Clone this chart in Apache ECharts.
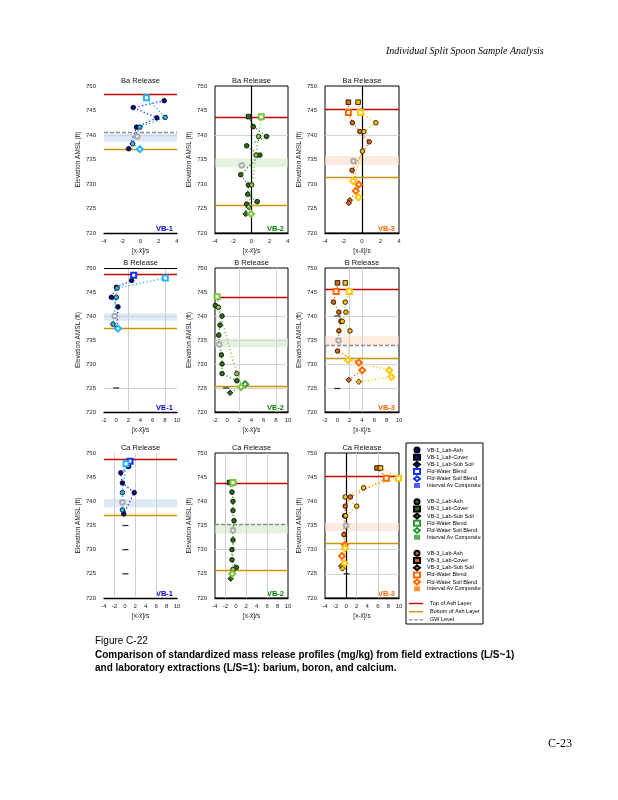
<!DOCTYPE html>
<html><head><meta charset="utf-8">
<script src="https://cdn.jsdelivr.net/npm/echarts@6/dist/echarts.min.js"></script>
<style>html,body{margin:0;padding:0;background:#fff}#c{width:618px;height:800px}</style>
</head><body><div id="c"></div>
<script>
// ================= DATA =================
const panelTitles = ['Ba Release','Ba Release','Ba Release','B Release','B Release','B Release','Ca Release','Ca Release','Ca Release'];
const siteNames = ['VB-1','VB-2','VB-3'];
const yTickValues = [720, 725, 730, 735, 740, 745, 750];
const xTicksBa = [-4, -2, 0, 2, 4];
const xTicksB = [-2, 0, 2, 4, 6, 8, 10];
const xTicksCa = [-4, -2, 0, 2, 4, 6, 8, 10];
const legendLabels = ['Lab-Ash', 'Lab-Cover', 'Lab-Sub Soil', 'Fld-Water Blend', 'Fld-Water Soil Blend', 'Interval Av Composite'];
const lineLegendLabels = ['Top of Ash Layer', 'Bottom of Ash Layer', 'GW Level'];
const yAxisTitle = 'Elevation AMSL (ft)';
const xAxisTitle = '[x-x\u0304]/s';

// per panel (Ba VB-1, Ba VB-2, Ba VB-3, B VB-1, B VB-2, B VB-3, Ca VB-1, Ca VB-2, Ca VB-3)
const topAshElev    = [748.4, 743.6, 745.2, 748.8, 744.0, 745.6, 748.8, 743.8, 745.2];
const bottomAshElev = [737.1, 725.6, 731.3, 737.5, 725.4, 731.3, 737.2, 725.7, 731.3];
const gwElev        = [740.5, null, null, null, null, 733.9, null, 735.3, null];
const bandLowElev   = [738.6, 733.4, 733.9, 739.0, 733.5, 733.9, 738.8, 733.3, 733.8];
const bandHighElev  = [740.3, 735.2, 735.7, 740.5, 735.3, 735.8, 740.5, 735.3, 735.5];
const vGridX   = [[], [], [], [2, 8], [2, 8], [2, 4], [-2, 2, 6], [-2, 2, 6], [2, 6]];
const hGridY   = [[740], [740], [740], [740, 725], [740, 735, 730, 725], [740, 730, 725], [], [730], [730, 725]];
const zeroLineX = [[], [0], [0], [], [], [], [], [], [0]];
const blackLineY = [[], [], [], [750], [], [], [], [], []];

// Ba VB-1
const baVB1DarkLab  = [[2.6,747.0],[-0.8,745.6],[1.8,743.5],[-0.43,741.6],[-1.3,737.2]];
const baVB1LightLab = [[2.7,743.6],[-0.07,741.6],[-0.86,738.2]];
const baVB1DarkFld  = [];
const baVB1LightFld = [[0.65,747.6],[-0.07,737.1]];
const baVB1Comp     = [[-0.36,739.7]];
const baVB1Dash     = [];
// Ba VB-2
const baVB2DarkLab  = [[-0.31,743.75],[0.2,741.7],[1.65,739.7],[-0.53,737.8],[0.92,735.9],[-1.18,731.9],[-0.34,729.8],[-0.42,727.9],[0.63,726.4],[-0.53,725.9],[-0.63,723.9]];
const baVB2LightLab = [[0.78,739.7],[0.49,735.9],[0.02,729.8],[-0.31,725.3]];
const baVB2DarkFld  = [];
const baVB2LightFld = [[1.07,743.75],[-0.05,723.9]];
const baVB2Comp     = [[-1.07,733.8]];
const baVB2Dash     = [];
// Ba VB-3
const baVB3DarkLab  = [[-1.47,746.7],[-1.03,742.5],[-0.24,740.7],[0.78,738.6],[-1.07,732.8],[-1.32,726.7],[-1.43,726.1]];
const baVB3LightLab = [[-0.42,746.7],[1.5,742.5],[0.2,740.7],[0.05,736.7]];
const baVB3DarkFld  = [[-1.47,744.6],[-0.34,729.9],[-0.67,728.6]];
const baVB3LightFld = [[-0.16,744.6],[-0.96,730.6],[-0.38,727.3]];
const baVB3Comp     = [[-0.92,734.7]];
const baVB3Dash     = [];
// B VB-1
const bVB1DarkLab  = [[2.55,747.4],[0.03,746.0],[-0.79,743.9],[0.3,741.9],[0.14,737.5]];
const bVB1LightLab = [[0.14,745.8],[0.03,743.9],[-0.52,738.3]];
const bVB1DarkFld  = [[2.88,748.5]];
const bVB1LightFld = [[8.08,747.9],[0.3,737.4]];
const bVB1Comp     = [[-0.25,740.0]];
const bVB1Dash     = [[0,725]];
// B VB-2
const bVB2DarkLab  = [[-1.95,742.2],[-0.84,740.0],[-1.17,738.1],[-1.39,736.0],[-0.95,731.9],[-0.84,730.0],[-0.84,728.0],[1.58,726.5],[0.48,724.0]];
const bVB2LightLab = [[-1.45,741.8],[1.58,728.0]];
const bVB2DarkFld  = [[2.96,725.8]];
const bVB2LightFld = [[-1.65,744.0],[2.3,725.2]];
const bVB2Comp     = [[-1.28,734.1]];
const bVB2Dash     = [[-0.18,725]];
// B VB-3
const bVB3DarkLab  = [[0.03,746.9],[-0.63,742.9],[0.25,740.8],[0.58,738.9],[0.25,736.9],[0.03,732.7],[1.84,726.7]];
const bVB3LightLab = [[1.29,746.9],[1.29,742.9],[1.4,740.8],[0.8,738.9],[2.05,736.9],[3.48,726.3]];
const bVB3DarkFld  = [[-0.19,745.1],[3.48,730.3],[4.03,728.7]];
const bVB3LightFld = [[1.95,745.1],[1.73,730.8],[8.41,728.7],[8.79,727.3]];
const bVB3Comp     = [[0.19,734.9]];
const bVB3Dash     = [[0,740],[0,724.9]];
// Ca VB-1
const caVB1DarkLab  = [[0.73,747.2],[-0.78,745.9],[-0.47,743.8],[1.8,741.8],[-0.21,737.4]];
const caVB1LightLab = [[-0.47,741.8],[-0.47,738.2]];
const caVB1DarkFld  = [[1.0,748.3]];
const caVB1LightFld = [[0.23,747.8]];
const caVB1Comp     = [[-0.47,739.8]];
const caVB1Dash     = [[0.1,735],[0.1,730],[0.1,725]];
// Ca VB-2
const caVB2DarkLab  = [[-1.2,743.9],[-0.74,741.9],[-0.55,740.0],[-0.55,738.1],[-0.35,736.0],[-0.55,732.0],[-0.74,730.0],[-0.74,727.9],[0.1,726.3],[-1.0,724.0]];
const caVB2LightLab = [[-0.55,725.9]];
const caVB2DarkFld  = [];
const caVB2LightFld = [[-0.55,743.9],[-0.7,725.0]];
const caVB2Comp     = [[-0.55,734.0]];
const caVB2Dash     = [];
// Ca VB-3
const caVB3DarkLab  = [[5.85,746.9],[0.8,740.9],[-0.17,739.0],[-0.3,737.0],[-0.42,733.1],[-0.93,726.6]];
const caVB3LightLab = [[6.5,746.9],[3.3,742.8],[-0.17,740.9],[2.0,739.0],[-0.1,737.0],[-0.68,726.1]];
const caVB3DarkFld  = [[7.6,744.8],[-0.23,731.0],[-0.8,728.7]];
const caVB3LightFld = [[9.9,744.8],[-0.23,730.3],[-0.3,727.2]];
const caVB3Comp     = [[0,735.0]];
const caVB3Dash     = [[0.1,725]];

const darkLab  = [baVB1DarkLab, baVB2DarkLab, baVB3DarkLab, bVB1DarkLab, bVB2DarkLab, bVB3DarkLab, caVB1DarkLab, caVB2DarkLab, caVB3DarkLab];
const lightLab = [baVB1LightLab, baVB2LightLab, baVB3LightLab, bVB1LightLab, bVB2LightLab, bVB3LightLab, caVB1LightLab, caVB2LightLab, caVB3LightLab];
const darkFld  = [baVB1DarkFld, baVB2DarkFld, baVB3DarkFld, bVB1DarkFld, bVB2DarkFld, bVB3DarkFld, caVB1DarkFld, caVB2DarkFld, caVB3DarkFld];
const lightFld = [baVB1LightFld, baVB2LightFld, baVB3LightFld, bVB1LightFld, bVB2LightFld, bVB3LightFld, caVB1LightFld, caVB2LightFld, caVB3LightFld];
const compPts  = [baVB1Comp, baVB2Comp, baVB3Comp, bVB1Comp, bVB2Comp, bVB3Comp, caVB1Comp, caVB2Comp, caVB3Comp];
const dashPts  = [baVB1Dash, baVB2Dash, baVB3Dash, bVB1Dash, bVB2Dash, bVB3Dash, caVB1Dash, caVB2Dash, caVB3Dash];
const xTickRows = [xTicksBa, xTicksB, xTicksCa];

// ================= LAYOUT / STYLE =================
const FONT = 'Liberation Sans, Arial, sans-serif';
const colLeft = [104, 215, 325], colWidth = [73, 73, 74];
const rowTop = [86, 268, 453], rowHeight = [147, 144, 145];
const boxed = [false, true, true, false, true, true, false, true, true];
const siteStyle = [
  {dark:'#0a0a8c', light:'#29b6f0', fldDark:'#1030ff', fldLight:'#22b4f5', band:'rgba(200,218,242,0.6)', label:'#0000cc', comp:'#1a3cff'},
  {dark:'#2c6e14', light:'#8cc63f', fldDark:'#2d9a2d', fldLight:'#78c43c', band:'rgba(214,234,204,0.6)', label:'#008000', comp:'#23a023'},
  {dark:'#e2640c', light:'#ffc000', fldDark:'#ff6a00', fldLight:'#ffc800', band:'rgba(250,220,200,0.6)', label:'#ff6600', comp:'#ff7a00'}
];
const C_TOP = '#c00000', C_BOT = '#c8960a', C_GW = '#8c8c8c';
const LINE_ICON = 'path://M0,0H20V2H0Z';
const DASH_ICON = 'path://M0,0H5V2H0Z M7.5,0H12.5V2H7.5Z M15,0H20V2H15Z';

const grids = [], xAxes = [], yAxes = [], series = [], graphics = [];

function labShape(elev, i) {
  if (elev > topAshElev[i]) return 'rect';
  if (elev < bottomAshElev[i]) return 'diamond';
  return 'circle';
}
function fldShape(elev, i) {
  return elev > (topAshElev[i] + bottomAshElev[i]) / 2 ? 'emptyRect' : 'emptyDiamond';
}
const labNameByShape = {circle: 0, rect: 1, diamond: 2};
const fldNameByShape = {emptyRect: 3, emptyDiamond: 4};

for (let i = 0; i < 9; i++) {
  const r = Math.floor(i / 3), c = i % 3;
  const st = siteStyle[c], site = siteNames[c];
  const xt = xTickRows[r];
  grids.push({left: colLeft[c], top: rowTop[r], width: colWidth[c], height: rowHeight[r],
    show: boxed[i], borderColor: '#000', borderWidth: 1, backgroundColor: 'transparent'});
  xAxes.push({gridIndex: i, type: 'value', min: xt[0], max: xt[xt.length - 1], interval: 2,
    axisLine: {show: true, onZero: false, lineStyle: {color: '#000', width: 1.3}},
    axisTick: {show: false}, splitLine: {show: false},
    axisLabel: {fontSize: 6, color: '#222', margin: 5, fontFamily: FONT},
    name: xAxisTitle, nameLocation: 'middle', nameGap: 15,
    nameTextStyle: {fontSize: 6.5, color: '#222', fontFamily: FONT}});
  yAxes.push({gridIndex: i, type: 'value', min: yTickValues[0], max: yTickValues[yTickValues.length - 1], interval: 5,
    axisLine: {show: false}, axisTick: {show: false}, splitLine: {show: false},
    axisLabel: {fontSize: 6, color: '#222', margin: 8, fontFamily: FONT},
    name: yAxisTitle, nameLocation: 'middle', nameGap: 20,
    nameTextStyle: {fontSize: 6.5, color: '#222', fontFamily: FONT}});

  const mlData = [];
  vGridX[i].forEach(v => mlData.push({xAxis: v, lineStyle: {color: '#cfcfcf', width: 1, type: 'solid'}}));
  hGridY[i].forEach(v => mlData.push({yAxis: v, lineStyle: {color: '#d4d4d4', width: 1, type: 'solid'}}));
  zeroLineX[i].forEach(v => mlData.push({xAxis: v, lineStyle: {color: '#000', width: 1.2, type: 'solid'}}));
  blackLineY[i].forEach(v => mlData.push({yAxis: v, lineStyle: {color: '#000', width: 1.2, type: 'solid'}}));
  series.push({type: 'line', xAxisIndex: i, yAxisIndex: i, data: [], silent: true, z: 1,
    markArea: {silent: true, itemStyle: {color: st.band}, data: [[{yAxis: bandLowElev[i]}, {yAxis: bandHighElev[i]}]]},
    markLine: {silent: true, symbol: 'none', label: {show: false}, data: mlData}});

  const addHLine = (name, val, color, type) => {
    series.push({name: 'L|' + name, type: 'line', xAxisIndex: i, yAxisIndex: i, data: [], symbol: 'none', z: 2,
      lineStyle: {color: color, width: 1.3, type: type}, itemStyle: {color: color},
      markLine: {silent: true, symbol: 'none', label: {show: false}, animation: false,
        lineStyle: {color: color, width: 1.3, type: type}, data: [{yAxis: val}]}});
  };
  addHLine(lineLegendLabels[0], topAshElev[i], C_TOP, 'solid');
  addHLine(lineLegendLabels[1], bottomAshElev[i], C_BOT, 'solid');
  if (gwElev[i] != null) addHLine(lineLegendLabels[2], gwElev[i], C_GW, [4, 2]);

  const darkPath = darkLab[i].concat(darkFld[i]).sort((a, b) => b[1] - a[1]);
  const lightPath = lightLab[i].concat(lightFld[i]).sort((a, b) => b[1] - a[1]);
  series.push({type: 'line', xAxisIndex: i, yAxisIndex: i, data: darkPath, symbol: 'none', silent: true, z: 3,
    lineStyle: {color: st.fldDark, width: 1.4, type: [1.2, 2.4]}});
  series.push({type: 'line', xAxisIndex: i, yAxisIndex: i, data: lightPath, symbol: 'none', silent: true, z: 3,
    lineStyle: {color: st.fldLight, width: 1.4, type: [1.2, 2.4]}});

  [[darkLab[i], st.dark], [lightLab[i], st.light]].forEach(([pts, col]) => {
    ['rect', 'circle', 'diamond'].forEach(shape => {
      const d = pts.filter(p => labShape(p[1], i) === shape);
      series.push({name: c + '|' + site + '_' + legendLabels[labNameByShape[shape]], type: 'scatter',
        xAxisIndex: i, yAxisIndex: i, data: d, symbol: shape, symbolSize: shape === 'diamond' ? 5.5 : 4.6, z: 5,
        itemStyle: {color: col, borderColor: '#000', borderWidth: 0.8, opacity: 1}});
    });
  });
  [[darkFld[i], st.fldDark], [lightFld[i], st.fldLight]].forEach(([pts, col]) => {
    ['emptyRect', 'emptyDiamond'].forEach(shape => {
      const d = pts.filter(p => fldShape(p[1], i) === shape);
      series.push({name: c + '|' + legendLabels[fldNameByShape[shape]], type: 'scatter',
        xAxisIndex: i, yAxisIndex: i, data: d, symbol: shape, symbolSize: shape === 'emptyDiamond' ? 6 : 5, z: 6,
        itemStyle: {color: col, borderColor: col, borderWidth: 1.3, opacity: 1}});
    });
  });
  series.push({name: c + '|' + legendLabels[5], type: 'scatter', xAxisIndex: i, yAxisIndex: i, data: compPts[i],
    symbol: 'emptyCircle', symbolSize: 4.5, z: 6, itemStyle: {color: '#9a9a9a', borderColor: '#9a9a9a', borderWidth: 1}});
  series.push({type: 'scatter', xAxisIndex: i, yAxisIndex: i, data: dashPts[i], symbol: 'rect', symbolSize: [6, 1.3],
    silent: true, z: 6, itemStyle: {color: '#000'}});

  graphics.push({type: 'text', x: colLeft[c] + colWidth[c] / 2, y: rowTop[r] - 5,
    style: {text: panelTitles[i], fontSize: 7.5, fontFamily: FONT, fill: '#111', textAlign: 'center', textVerticalAlign: 'middle'}});
  graphics.push({type: 'text', x: colLeft[c] + colWidth[c] - 4, y: rowTop[r] + rowHeight[r] - 4.5,
    style: {text: site, fontSize: 7.5, fontWeight: 'bold', fontFamily: FONT, fill: st.label, textAlign: 'right', textVerticalAlign: 'middle'}});
}

const legendTops = [446.5, 498.2, 549.8];
const legends = siteNames.map((site, s) => ({
  orient: 'vertical', left: 413, top: legendTops[s], padding: 0, itemWidth: 6, itemHeight: 5, itemGap: 0.2,
  selectedMode: false, formatter: n => n.split('|')[1],
  textStyle: {fontSize: 5.5, lineHeight: 5, color: '#000', fontFamily: FONT, padding: [0, 0, 0, 2]},
  data: legendLabels.map((lab, k) => {
    if (k < 3) return s + '|' + site + '_' + lab;
    if (k < 5) return s + '|' + lab;
    return {name: s + '|' + lab, icon: 'rect', itemStyle: {color: siteStyle[s].comp, borderWidth: 0}};
  })
}));
legends.push({orient: 'vertical', left: 409, top: 600.5, padding: 0, itemWidth: 14, itemHeight: 1.6, itemGap: 2.2,
  selectedMode: false, formatter: n => n.split('|')[1],
  textStyle: {fontSize: 5.5, lineHeight: 5, color: '#000', fontFamily: FONT, padding: [0, 0, 0, 2]},
  data: lineLegendLabels.map((l, k) => ({name: 'L|' + l, icon: k === 2 ? DASH_ICON : LINE_ICON}))});

graphics.push({type: 'rect', shape: {x: 406, y: 443, width: 77, height: 181}, style: {fill: 'none', stroke: '#000', lineWidth: 1}, z: 0});
graphics.push({type: 'text', x: 386, y: 51, style: {text: 'Individual Split Spoon Sample Analysis', fontSize: 10, fontStyle: 'italic',
  fontFamily: 'Liberation Serif, Times New Roman, serif', fill: '#000', textVerticalAlign: 'middle'}});
graphics.push({type: 'text', x: 95, y: 641, style: {text: 'Figure C-22', fontSize: 10, fontFamily: FONT, fill: '#000', textVerticalAlign: 'middle'}});
graphics.push({type: 'text', x: 95, y: 655, style: {text: 'Comparison of standardized mass release profiles (mg/kg) from field extractions (L/S~1)', fontSize: 10, fontWeight: 'bold', fontFamily: FONT, fill: '#000', textVerticalAlign: 'middle'}});
graphics.push({type: 'text', x: 95, y: 668, style: {text: 'and laboratory extractions (L/S=1): barium, boron, and calcium.', fontSize: 10, fontWeight: 'bold', fontFamily: FONT, fill: '#000', textVerticalAlign: 'middle'}});
graphics.push({type: 'text', x: 548, y: 744, style: {text: 'C-23', fontSize: 12, fontFamily: 'Liberation Serif, Times New Roman, serif', fill: '#000', textVerticalAlign: 'middle'}});

const chart = echarts.init(document.getElementById('c'));
chart.setOption({
  animation: false,
  backgroundColor: '#fff',
  grid: grids, xAxis: xAxes, yAxis: yAxes, series: series, legend: legends, graphic: graphics
});
</script></body></html>
